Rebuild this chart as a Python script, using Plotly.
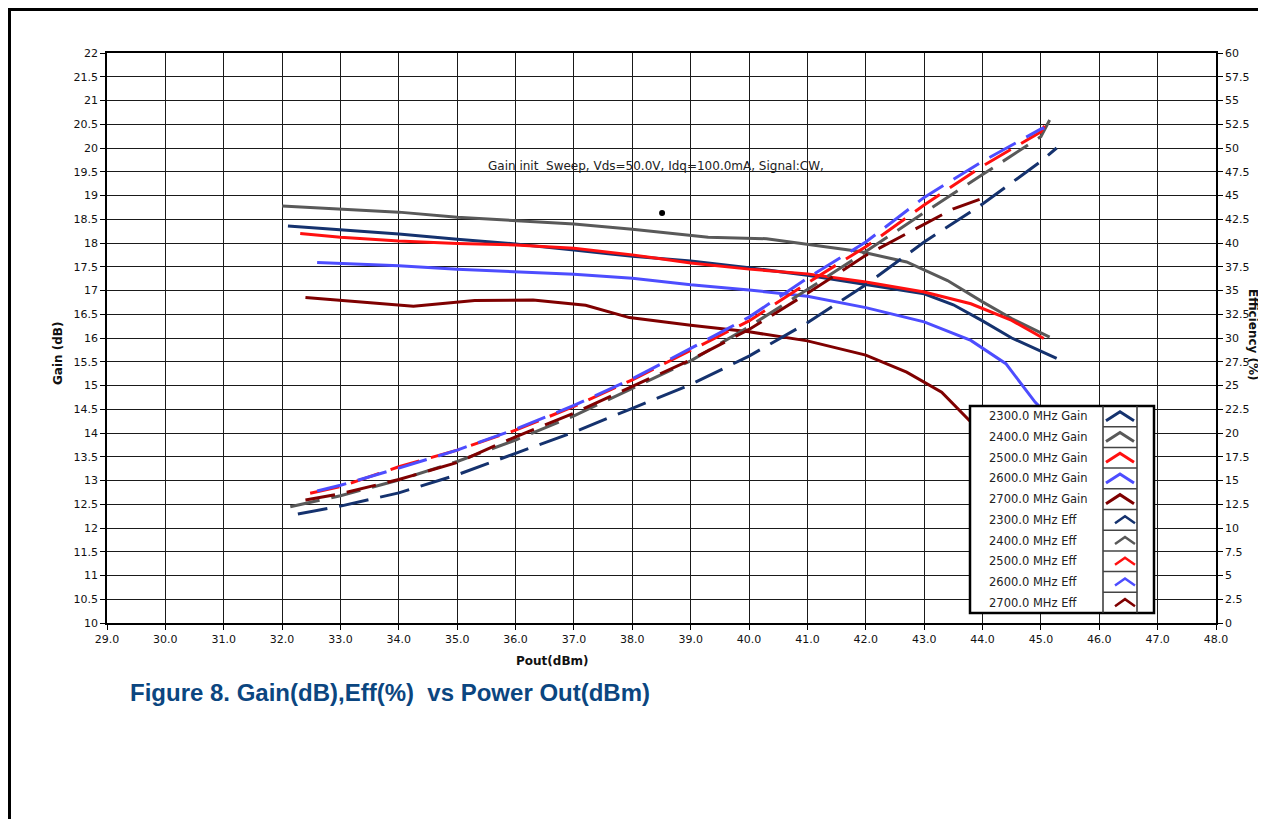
import plotly.graph_objects as go

# ---------------- data ----------------
freq_labels = ["2300.0 MHz", "2400.0 MHz", "2500.0 MHz", "2600.0 MHz", "2700.0 MHz"]
colors = ["#15326e", "#595959", "#ff1010", "#4d4dff", "#7f0000"]

# Gain (dB) vs Pout (dBm)
pout_gain_2300 = [32.1, 33, 34, 35, 36, 37, 38, 39, 40, 41, 42, 43, 43.5, 44, 44.5, 45.27]
gain_2300 = [18.36, 18.28, 18.19, 18.08, 17.98, 17.85, 17.72, 17.62, 17.48, 17.32, 17.13, 16.93, 16.70, 16.36, 16.0, 15.57]
pout_gain_2400 = [32.0, 33, 34, 35, 36, 37, 38, 39, 39.3, 40.3, 41, 41.9, 42.7, 43.4, 44, 44.5, 45.15]
gain_2400 = [18.78, 18.71, 18.65, 18.54, 18.47, 18.4, 18.29, 18.17, 18.12, 18.09, 17.97, 17.82, 17.6, 17.21, 16.76, 16.41, 16.02]
pout_gain_2500 = [32.31, 33, 34, 35, 36, 37, 38, 39, 40, 41, 42, 43, 43.8, 44.5, 45.05]
gain_2500 = [18.2, 18.12, 18.04, 17.99, 17.96, 17.89, 17.75, 17.58, 17.45, 17.35, 17.18, 16.97, 16.72, 16.37, 15.99]
pout_gain_2600 = [32.6, 34, 35, 36, 37, 38, 39, 40, 41, 42, 43, 43.8, 44.4, 44.9, 45.1]
gain_2600 = [17.59, 17.52, 17.45, 17.40, 17.34, 17.26, 17.12, 17.01, 16.88, 16.64, 16.34, 15.95, 15.46, 14.65, 14.4]
pout_gain_2700 = [32.4, 33.3, 34.25, 35.3, 36.3, 37.2, 37.95, 39, 40, 41, 42, 42.7, 43.3, 43.8, 44.2]
gain_2700 = [16.85, 16.76, 16.67, 16.79, 16.8, 16.69, 16.43, 16.27, 16.13, 15.94, 15.64, 15.28, 14.86, 14.23, 13.6]

# Efficiency (%) vs Pout (dBm)
pout_eff_2300 = [32.27, 33, 34, 35, 36, 37, 38, 39, 40, 41, 42, 43, 44, 45, 45.27]
eff_2300 = [11.47, 12.3, 13.7, 15.6, 17.86, 20.1, 22.6, 25.1, 28.1, 31.6, 35.6, 40.1, 44.1, 48.6, 50.0]
pout_eff_2400 = [32.14, 33, 34, 35, 36, 37, 38, 39, 40, 41, 42, 43, 44, 45, 45.15]
eff_2400 = [12.24, 13.4, 15.05, 17.0, 19.26, 21.8, 24.7, 27.6, 31.2, 35.1, 39.1, 43.2, 47.2, 51.2, 52.95]
pout_eff_2500 = [32.48, 33, 34, 35, 36, 37, 38, 39, 40, 41, 42, 43, 44, 45, 45.09]
eff_2500 = [13.65, 14.35, 16.45, 18.2, 20.3, 22.8, 25.6, 28.7, 31.8, 35.8, 39.6, 44.0, 48.1, 51.7, 52.6]
pout_eff_2600 = [32.6, 33, 34, 35, 36, 37, 38, 39, 40, 41, 42, 43, 44, 45, 45.06]
eff_2600 = [13.9, 14.5, 16.3, 18.2, 20.4, 22.9, 25.7, 28.9, 32.2, 36.3, 40.1, 44.8, 48.6, 52.0, 52.1]
pout_eff_2700 = [32.4, 33, 34, 35, 36, 37, 38, 39, 40, 41, 42, 43, 43.5, 43.95]
eff_2700 = [12.95, 13.6, 15.1, 16.9, 19.6, 22.1, 24.9, 27.7, 30.9, 34.7, 38.7, 42.0, 43.6, 44.6]

dot_pout = [38.51]
dot_gain = [18.63]

info_text = "Gain init  Sweep, Vds=50.0V, Idq=100.0mA, Signal:CW,"
caption = "Figure 8. Gain(dB),Eff(%)  vs Power Out(dBm)"

gain_x = [pout_gain_2300, pout_gain_2400, pout_gain_2500, pout_gain_2600, pout_gain_2700]
gain_y = [gain_2300, gain_2400, gain_2500, gain_2600, gain_2700]
eff_x = [pout_eff_2300, pout_eff_2400, pout_eff_2500, pout_eff_2600, pout_eff_2700]
eff_y = [eff_2300, eff_2400, eff_2500, eff_2600, eff_2700]

# ---------------- layout geometry ----------------
OFF = 8  # page body margin
W, H = 1258, 811
L, R, T, B = 99, 50, 45, 196
PW = W - L - R
PH = H - T - B


def px(x_page):
    return (x_page - OFF - L) / PW


def py(y_page):
    return (H - B - (y_page - OFF)) / PH


TICKFONT = dict(family="DejaVu Sans", size=11, color="#111")

fig = go.Figure()

for i in range(5):
    fig.add_trace(go.Scatter(x=eff_x[i], y=eff_y[i], mode="lines", yaxis="y2",
                             name=freq_labels[i] + " Eff",
                             line=dict(color=colors[i], width=3, dash="30px,12px")))
for i in range(5):
    fig.add_trace(go.Scatter(x=gain_x[i], y=gain_y[i], mode="lines",
                             name=freq_labels[i] + " Gain",
                             line=dict(color=colors[i], width=3)))

fig.add_trace(go.Scatter(x=dot_pout, y=dot_gain, mode="markers",
                         marker=dict(color="black", size=6), showlegend=False))

axis_common = dict(showline=True, linecolor="black", linewidth=1.5, ticks="outside",
                   ticklen=5, tickcolor="black", tickfont=TICKFONT, zeroline=False)

fig.update_layout(
    width=W, height=H,
    margin=dict(l=L, r=R, t=T, b=B, autoexpand=False),
    paper_bgcolor="white", plot_bgcolor="white",
    showlegend=False,
    xaxis=dict(range=[29, 48], tick0=29, dtick=1, tickformat=".1f", mirror=True,
               showgrid=True, gridcolor="#1a1a1a", gridwidth=1.3, **axis_common),
    yaxis=dict(range=[10, 22], tick0=10, dtick=0.5, mirror=True,
               showgrid=True, gridcolor="#1a1a1a", gridwidth=1.3, **axis_common),
    yaxis2=dict(range=[0, 60], tick0=0, dtick=2.5, overlaying="y", side="right",
                showgrid=False, **axis_common),
)

shapes = []
annotations = []

# outer frame of the figure
shapes.append(dict(type="rect", xref="paper", yref="paper",
                   x0=px(9.5), x1=px(1262), y0=py(9.5), y1=py(840),
                   line=dict(color="black", width=3), fillcolor="rgba(0,0,0,0)", layer="above"))

# legend box
LX0, LX1, LY0, LY1 = 970, 1154, 406, 613
CX0, CX1 = 1103, 1137
row_h = (LY1 - LY0) / 10
shapes.append(dict(type="rect", xref="paper", yref="paper",
                   x0=px(LX0), x1=px(LX1), y0=py(LY0), y1=py(LY1),
                   line=dict(color="black", width=2.5), fillcolor="white", layer="above"))
shapes.append(dict(type="line", xref="paper", yref="paper",
                   x0=px(CX0), x1=px(CX0), y0=py(LY0), y1=py(LY1),
                   line=dict(color="#333", width=1.5), layer="above"))
shapes.append(dict(type="line", xref="paper", yref="paper",
                   x0=px(CX1), x1=px(CX1), y0=py(LY0), y1=py(LY1),
                   line=dict(color="#333", width=1.5), layer="above"))
legend_names = [f + " Gain" for f in freq_labels] + [f + " Eff" for f in freq_labels]
legend_colors = colors + colors
for r in range(10):
    top = LY0 + r * row_h
    c = top + row_h / 2
    if r > 0:
        shapes.append(dict(type="line", xref="paper", yref="paper",
                           x0=px(CX0), x1=px(CX1), y0=py(top), y1=py(top),
                           line=dict(color="#444", width=1.5), layer="above"))
    if r < 5:
        xa, xm, xb, h = 1106, 1120, 1134, 4.5
        wdt = 3
    else:
        xa, xm, xb, h = 1115, 1125, 1135, 3.5
        wdt = 2.5
    path = f"M {px(xa)},{py(c + h)} L {px(xm)},{py(c - h)} L {px(xb)},{py(c + h)}"
    shapes.append(dict(type="path", xref="paper", yref="paper", path=path,
                       line=dict(color=legend_colors[r], width=wdt), layer="above"))
    annotations.append(dict(xref="paper", yref="paper", x=px(987), y=py(c),
                            xanchor="left", yanchor="middle", showarrow=False,
                            text=legend_names[r],
                            font=dict(family="DejaVu Sans", size=11.5, color="#222")))

# axis titles and texts
annotations.append(dict(xref="paper", yref="paper", x=px(58), y=py(353), textangle=-90,
                        xanchor="center", yanchor="middle", showarrow=False,
                        text="<b>Gain (dB)</b>", font=dict(family="DejaVu Sans", size=12, color="#111")))
annotations.append(dict(xref="paper", yref="paper", x=px(552), y=py(661),
                        xanchor="center", yanchor="middle", showarrow=False,
                        text="<b>Pout(dBm)</b>", font=dict(family="DejaVu Sans", size=12, color="#111")))
annotations.append(dict(xref="paper", yref="paper", x=px(1253), y=py(335), textangle=90,
                        xanchor="center", yanchor="middle", showarrow=False,
                        text="<b>Efficiency (%)</b>", font=dict(family="DejaVu Sans", size=12, color="#111")))
annotations.append(dict(xref="paper", yref="paper", x=px(656), y=py(166),
                        xanchor="center", yanchor="middle", showarrow=False,
                        text=info_text, font=dict(family="DejaVu Sans", size=12, color="#222")))
annotations.append(dict(xref="paper", yref="paper", x=px(128), y=py(692),
                        xanchor="left", yanchor="middle", showarrow=False,
                        text="<b>" + caption + "</b>",
                        font=dict(family="Liberation Sans", size=24, color="#0b4680")))

fig.update_layout(shapes=shapes, annotations=annotations)

fig.write_html("out.html")
